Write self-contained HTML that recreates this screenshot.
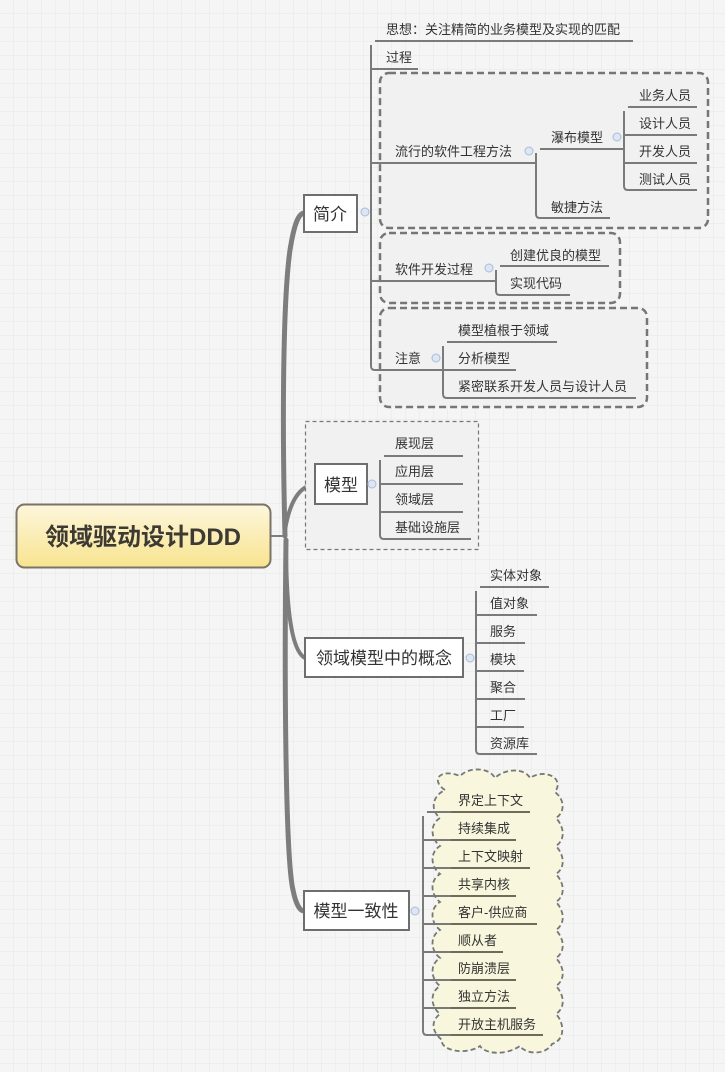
<!DOCTYPE html>
<html><head><meta charset="utf-8"><style>
html,body{margin:0;padding:0;background:#f4f5f4}
svg{display:block}
text{font-family:"Liberation Sans","Noto Sans CJK SC",sans-serif;fill:#333}
.l{font-size:13px}
.b{font-size:17px}
</style></head><body>
<svg width="725" height="1072" viewBox="0 0 725 1072" xmlns="http://www.w3.org/2000/svg">
<defs>
<pattern id="g" width="14" height="14" patternUnits="userSpaceOnUse"><path d="M14 0V14H0" fill="none" stroke="#e6e9e6" stroke-width="1"/></pattern>
<linearGradient id="y" x1="0" y1="0" x2="0" y2="1"><stop offset="0" stop-color="#fdf6dc"/><stop offset="1" stop-color="#f8e48f"/></linearGradient>
</defs>
<rect width="725" height="1072" fill="#f4f5f4"/>
<rect width="725" height="1072" fill="url(#g)"/>

<!-- trunk -->
<g fill="none" stroke="#7d7d7d" stroke-linecap="round">
<line x1="271" y1="536" x2="284" y2="536" stroke-width="2"/>
<path d="M285,536 C282,420 283,300 290,250 C294,225 298,214 304,213" stroke-width="5"/>
<path d="M285,530 C290,500 300,486 315,484" stroke-width="4"/>
<path d="M286,540 C286,600 290,650 305,658" stroke-width="4"/>
<path d="M286,540 C284,700 286,860 293,890 C296,905 300,911 304,911" stroke-width="5"/>
</g>

<!-- center -->
<rect x="16.5" y="504.5" width="254" height="63" rx="8" fill="url(#y)" stroke="#7a7367" stroke-width="2"/>
<text x="143" y="545" text-anchor="middle" style="font-size:24px;font-weight:bold;fill:#3d3a33">领域驱动设计DDD</text>

<!-- dashed regions -->
<g fill="#f1f1f1" stroke="#767676" stroke-width="2.5" stroke-dasharray="7,4">
<rect x="380" y="73" width="328" height="155" rx="9"/>
<rect x="380" y="233" width="240" height="70" rx="9"/>
<rect x="380" y="308" width="267" height="99" rx="9"/>
</g>
<rect x="305.5" y="421.5" width="173" height="128" fill="#f1f1f1" stroke="#777" stroke-width="1.2" stroke-dasharray="4,3"/>

<!-- cloud -->
<path d="M445,790 C430,780 440,768 460,776 C470,766 490,768 495,778 C505,768 525,768 530,778 C545,768 565,778 555,792
C565,800 565,812 556,818 C565,828 565,840 556,846 C565,856 565,868 556,874 C565,884 565,896 556,902 C565,912 565,924 556,930 C565,940 565,952 556,958 C565,968 565,980 556,986 C565,996 565,1008 556,1014 C565,1024 565,1040 552,1044
C545,1056 525,1054 520,1046 C505,1056 485,1054 480,1046 C465,1056 440,1050 442,1040
C430,1030 432,1020 440,1014 C430,1006 430,992 440,986 C430,978 430,964 440,958 C430,950 430,936 440,930 C430,922 430,908 440,902 C430,894 430,880 440,874 C430,866 430,852 440,846 C430,838 430,824 440,818 C430,810 432,796 445,790 Z" fill="#f8f6dc" stroke="#777" stroke-width="1.8" stroke-dasharray="5,3"/>

<!-- branch boxes -->
<g fill="#fff" stroke="#6e6e6e" stroke-width="2">
<rect x="304" y="195" width="53" height="37"/>
<rect x="315" y="464" width="52" height="40"/>
<rect x="305" y="638" width="158" height="39"/>
<rect x="304" y="891" width="105" height="39"/>
</g>
<text class="b" x="330" y="220" text-anchor="middle">简介</text>
<text class="b" x="341" y="491" text-anchor="middle">模型</text>
<text class="b" x="384" y="664" text-anchor="middle">领域模型中的概念</text>
<text class="b" x="356" y="917" text-anchor="middle">模型一致性</text>

<!-- collapse circles -->
<g fill="#dde6f3" stroke="#a9bcd8" stroke-width="1">
<circle cx="365" cy="212" r="4"/><circle cx="372" cy="484" r="4"/><circle cx="470" cy="658" r="4"/><circle cx="415" cy="911" r="4"/>
<circle cx="529" cy="151" r="4"/><circle cx="617" cy="137" r="4"/><circle cx="489" cy="268" r="4"/><circle cx="436" cy="358" r="4"/>
</g>

<!-- connectors -->
<g fill="none" stroke="#7a7a7a" stroke-width="2">
<path d="M375,41 H633 M371,45 V366 Q371,370 375,370 H443 M371,69 H418 M371,163 H536 M371,281 H496"/>
<path d="M540,149 H623 M536,153 V214 Q536,218 540,218 H610"/>
<path d="M628,107 H697 M624,111 V186 Q624,190 628,190 H697 M624,135 H697 M624,163 H697"/>
<path d="M500,266 H609 M496,270 V291 Q496,295 500,295 H570"/>
<path d="M447,342 H557 M443,346 V394 Q443,398 447,398 H636 M443,370 H516"/>
<path d="M384,456 H463 M380,460 V535 Q380,539 384,539 H471 M380,484 H463 M380,512 H463"/>
<path d="M480,587 H549 M476,591 V750 Q476,754 480,754 H537 M476,615 H537 M476,643 H525 M476,671 H524 M476,699 H525 M476,727 H524"/>
<path d="M427,812 H453 M423,816 V1031 Q423,1035 427,1035 H453 M423,840 H453 M423,868 H453 M423,896 H453 M423,924 H453 M423,952 H453 M423,980 H453 M423,1008 H453"/>
</g>
<g fill="none" stroke="#6f6b5a" stroke-width="2">
<path d="M451,812 H530 M451,840 H516 M451,868 H530 M451,896 H516 M451,924 H537 M451,952 H503 M451,980 H516 M451,1008 H516 M451,1035 H543"/>
</g>

<!-- leaf texts -->
<g class="l">
<text class="l" x="386" y="34">思想：关注精简的业务模型及实现的匹配</text>
<text class="l" x="386" y="62">过程</text>
<text class="l" x="395" y="156">流行的软件工程方法</text>
<text class="l" x="551" y="142">瀑布模型</text>
<text class="l" x="551" y="212">敏捷方法</text>
<text class="l" x="639" y="100">业务人员</text>
<text class="l" x="639" y="128">设计人员</text>
<text class="l" x="639" y="156">开发人员</text>
<text class="l" x="639" y="184">测试人员</text>
<text class="l" x="395" y="274">软件开发过程</text>
<text class="l" x="510" y="260">创建优良的模型</text>
<text class="l" x="510" y="288">实现代码</text>
<text class="l" x="395" y="363">注意</text>
<text class="l" x="458" y="335">模型植根于领域</text>
<text class="l" x="458" y="363">分析模型</text>
<text class="l" x="458" y="391">紧密联系开发人员与设计人员</text>
<text class="l" x="395" y="448">展现层</text>
<text class="l" x="395" y="476">应用层</text>
<text class="l" x="395" y="504">领域层</text>
<text class="l" x="395" y="532">基础设施层</text>
<text class="l" x="490" y="580">实体对象</text>
<text class="l" x="490" y="608">值对象</text>
<text class="l" x="490" y="636">服务</text>
<text class="l" x="490" y="664">模块</text>
<text class="l" x="490" y="692">聚合</text>
<text class="l" x="490" y="720">工厂</text>
<text class="l" x="490" y="748">资源库</text>
<text class="l" x="458" y="805">界定上下文</text>
<text class="l" x="458" y="833">持续集成</text>
<text class="l" x="458" y="861">上下文映射</text>
<text class="l" x="458" y="889">共享内核</text>
<text class="l" x="458" y="917">客户-供应商</text>
<text class="l" x="458" y="945">顺从者</text>
<text class="l" x="458" y="973">防崩溃层</text>
<text class="l" x="458" y="1001">独立方法</text>
<text class="l" x="458" y="1029">开放主机服务</text>
</g>
</svg>
</body></html>
